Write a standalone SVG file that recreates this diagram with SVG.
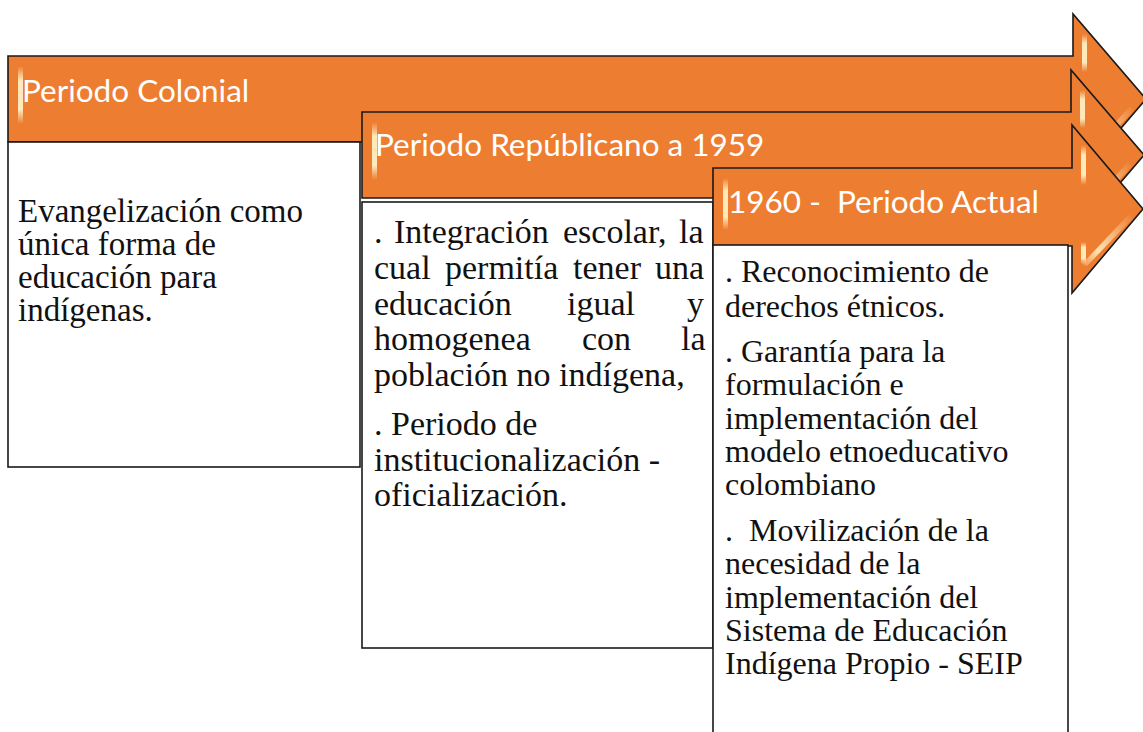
<svg xmlns="http://www.w3.org/2000/svg" width="1143" height="732" viewBox="0 0 1143 732">
<defs>
<linearGradient id="hl" x1="0" y1="0" x2="0" y2="1">
<stop offset="0" stop-color="#FFE9B8" stop-opacity="0"/>
<stop offset="0.25" stop-color="#FFE9B8" stop-opacity="1"/>
<stop offset="0.75" stop-color="#FFE9B8" stop-opacity="1"/>
<stop offset="1" stop-color="#FFE9B8" stop-opacity="0"/>
</linearGradient>
<linearGradient id="hld" x1="0" y1="1" x2="1" y2="0">
<stop offset="0" stop-color="#FFE9B8" stop-opacity="0.2"/>
<stop offset="0.3" stop-color="#FFE9B8" stop-opacity="0.95"/>
<stop offset="1" stop-color="#FFE9B8" stop-opacity="0"/>
</linearGradient>
</defs>
<style>
.arrow{fill:#ED7D31;stroke:#1a1a1a;stroke-width:1.6;stroke-linejoin:miter}
.hl{fill:url(#hl)}
.hld{fill:url(#hld)}
.box{fill:#ffffff;stroke:#1a1a1a;stroke-width:1.6}
.head{font-family:Lato,"Open Sans","Liberation Sans",sans-serif;font-size:31.5px;fill:#ffffff}
.body1{font-family:"Liberation Serif","Times New Roman",serif;font-size:33px;fill:#111111}
.body{font-family:"Liberation Serif","Times New Roman",serif;font-size:34px;fill:#111111}
.body3{font-family:"Liberation Serif","Times New Roman",serif;font-size:32px;fill:#111111}
</style>
<rect width="1143" height="732" fill="#ffffff"/>
<g id="connectors"></g>
<g id="periodo-colonial">
<path class="arrow" d="M8,56 H1073 V14 L1146,99 L1073,184 V142 H8 Z"/>
<rect class="hl" x="18" y="66" width="5" height="58"/>
<rect class="hl" x="1082" y="34" width="5" height="38"/>
<rect class="hl" x="1082" y="136" width="5" height="22"/>
<polygon class="hld" points="1083,158 1088,160 1134,110 1130,106"/>
<text class="head" x="22" y="102">Periodo Colonial</text>
<rect class="box" x="8" y="142" width="352" height="325"/>
<text class="body1" x="18"><tspan x="18" y="222">Evangelización como</tspan><tspan x="18" y="255">única forma de</tspan><tspan x="18" y="288">educación para</tspan><tspan x="18" y="321">indígenas.</tspan></text>
</g>
<g id="periodo-republicano">
<path class="arrow" d="M362,112 H1071 V70 L1144,155 L1071,240 V198 H362 Z"/>
<rect class="hl" x="372" y="122" width="5" height="58"/>
<rect class="hl" x="1080" y="90" width="5" height="38"/>
<rect class="hl" x="1080" y="192" width="5" height="22"/>
<polygon class="hld" points="1081,214 1086,216 1132,166 1128,162"/>
<text class="head" x="375" y="156">Periodo Repúblicano a 1959</text>
<rect class="box" x="362" y="202" width="351" height="446"/>
<text class="body">
<tspan x="374" y="243">.</tspan><tspan x="394" y="243">Integración</tspan><tspan x="563" y="243">escolar,</tspan><tspan x="679" y="243">la</tspan>
<tspan x="374" y="279">cual</tspan><tspan x="445" y="279">permitía</tspan><tspan x="573" y="279">tener</tspan><tspan x="655" y="279">una</tspan>
<tspan x="374" y="315">educación</tspan><tspan x="567" y="315">igual</tspan><tspan x="687" y="315">y</tspan>
<tspan x="374" y="350">homogenea</tspan><tspan x="582" y="350">con</tspan><tspan x="681" y="350">la</tspan>
<tspan x="374" y="386">población no indígena,</tspan>
<tspan x="374" y="435">. Periodo de</tspan>
<tspan x="374" y="471">institucionalización -</tspan>
<tspan x="374" y="506">oficialización.</tspan>
</text>
</g>
<g id="periodo-actual">
<path class="arrow" d="M713,168 H1072 V125 L1143,209 L1072,293 V246 H713 Z"/>
<rect class="hl" x="723" y="178" width="5" height="52"/>
<rect class="hl" x="1081" y="145" width="5" height="40"/>
<rect class="hl" x="1081" y="242" width="5" height="22"/>
<polygon class="hld" points="1082,264 1087,266 1133,218 1129,214"/>
<text class="head" x="728" y="213" xml:space="preserve">1960 -  Periodo Actual</text>
<rect class="box" x="713" y="245" width="355" height="500"/>
<text class="body3" xml:space="preserve"><tspan x="725" y="282">. Reconocimiento de</tspan><tspan x="725" y="317">derechos étnicos.</tspan><tspan x="725" y="362">. Garantía para la</tspan><tspan x="725" y="395">formulación e</tspan><tspan x="725" y="429">implementación del</tspan><tspan x="725" y="462">modelo etnoeducativo</tspan><tspan x="725" y="495">colombiano</tspan><tspan x="725" y="541">.  Movilización de la</tspan><tspan x="725" y="574">necesidad de la</tspan><tspan x="725" y="608">implementación del</tspan><tspan x="725" y="641">Sistema de Educación</tspan><tspan x="725" y="674">Indígena Propio - SEIP</tspan></text>
</g>
</svg>
